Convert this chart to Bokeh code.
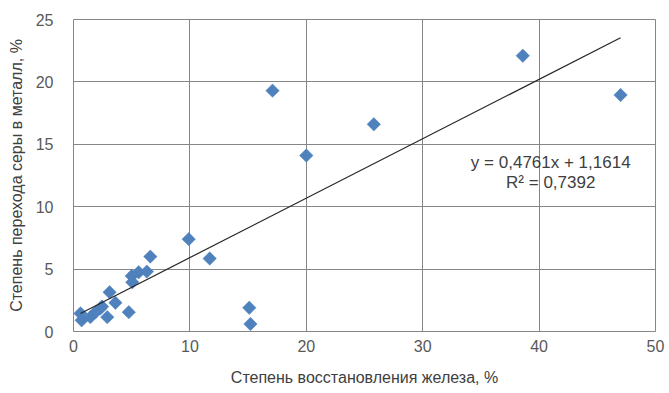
from bokeh.plotting import figure
from bokeh.models import Range1d, FixedTicker, ColumnDataSource, Label
from bokeh.embed import file_html
from bokeh.resources import INLINE
import numpy as np

# Data
iron_reduction = [0.6, 0.7, 1.45, 1.9, 2.3, 2.45, 2.9, 3.1, 3.6, 4.75, 5.0, 5.05,
                  5.6, 6.3, 6.6, 9.9, 11.7, 15.1, 15.2, 17.1, 20.0, 25.8, 38.6, 47.0]
sulfur_transfer = [1.45, 0.9, 1.15, 1.55, 1.85, 2.0, 1.15, 3.15, 2.3, 1.55, 4.45, 3.95,
                   4.75, 4.8, 6.0, 7.4, 5.85, 1.9, 0.6, 19.3, 14.1, 16.6, 22.1, 18.95]
slope = 0.4761
intercept = 1.1614
r_squared = 0.7392
x_ticks = [0, 10, 20, 30, 40, 50]
y_ticks = [0, 5, 10, 15, 20, 25]

FONT = "Liberation Sans"
GRID = "#868686"

p = figure(width=669, height=393, output_backend="svg", toolbar_location=None,
           x_range=Range1d(0, 50), y_range=Range1d(0, 25),
           min_border_left=73, min_border_right=14, min_border_top=19, min_border_bottom=62)
p.background_fill_color = "white"
p.border_fill_color = "white"
p.outline_line_color = GRID
p.outline_line_width = 1

for ax in (p.xaxis[0], p.yaxis[0]):
    ax.axis_line_color = None
    ax.major_tick_line_color = None
    ax.minor_tick_line_color = None
    ax.major_tick_out = 0
    ax.major_tick_in = 0
    ax.major_label_text_font = FONT
    ax.major_label_text_font_size = "16px"
    ax.major_label_text_color = "#595959"
    ax.axis_label_text_font = FONT
    ax.axis_label_text_font_size = "16px"
    ax.axis_label_text_font_style = "normal"
    ax.axis_label_text_color = "#404040"

p.xaxis.ticker = FixedTicker(ticks=x_ticks)
p.yaxis.ticker = FixedTicker(ticks=y_ticks)
p.xaxis.major_label_standoff = 8
p.yaxis.major_label_standoff = 20
p.xaxis.axis_label = "Степень восстановления железа, %"
p.yaxis.axis_label = "Степень перехода серы в металл, %"
p.xaxis.axis_label_standoff = 14
p.yaxis.axis_label_standoff = 8

p.xgrid.grid_line_color = GRID
p.ygrid.grid_line_color = GRID
p.xgrid.grid_line_width = 1
p.ygrid.grid_line_width = 1

src = ColumnDataSource(dict(x=iron_reduction, y=sulfur_transfer))
p.scatter("x", "y", source=src, marker="square", size=9.5, angle=np.pi / 4,
          fill_color="#4F81BD", line_color="#4F81BD", line_width=0.5)

tx = np.array([min(iron_reduction), max(iron_reduction)])
p.line(tx, slope * tx + intercept, line_color="#262626", line_width=1.2)

eq1 = "y = " + f"{slope:.4f}".replace(".", ",") + "x + " + f"{intercept:.4f}".replace(".", ",")
eq2 = "R² = " + f"{r_squared:.4f}".replace(".", ",")
p.add_layout(Label(x=41, y=13.55, text=eq1, text_align="center", text_baseline="middle",
                   text_font=FONT, text_font_size="17px", text_color="#404040"))
p.add_layout(Label(x=41, y=11.9, text=eq2, text_align="center", text_baseline="middle",
                   text_font=FONT, text_font_size="17px", text_color="#404040"))

open("out.html", "w").write(file_html(p, INLINE))
